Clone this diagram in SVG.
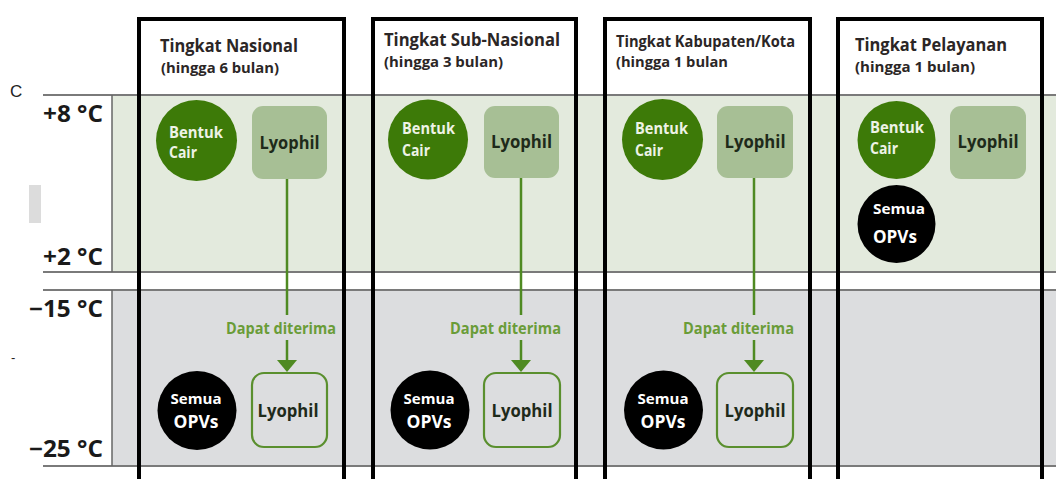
<svg xmlns="http://www.w3.org/2000/svg" width="1056" height="479" viewBox="0 0 1056 479">
<style>
.hd{font-family:"Open Sans","Noto Sans",sans-serif;font-weight:bold;fill:#2b2626;}
.sub{font-family:"Open Sans","Noto Sans",sans-serif;font-weight:bold;fill:#2b2626;}
.tmp{font-family:"Open Sans","Noto Sans",sans-serif;font-weight:bold;font-size:23px;fill:#1a1a1a;}
.band{stroke:#7a7a7a;stroke-width:2;}
.col{fill:none;stroke:#000;stroke-width:4;}
.gc{fill:#3d7a08;}
.bc{fill:#000;}
.lyo{fill:#a7bf95;}
.lyo2{fill:none;stroke:#5a8f2e;stroke-width:2.2;}
.wt{font-family:"Open Sans","Noto Sans",sans-serif;font-weight:bold;font-size:15.5px;fill:#eef3e6;}
.wt2{font-family:"Open Sans","Noto Sans",sans-serif;font-weight:bold;fill:#fff;}
.lt{font-family:"Open Sans","Noto Sans",sans-serif;font-weight:bold;font-size:17.5px;fill:#1e2a1a;text-anchor:middle;}
.dt{font-family:"Open Sans","Noto Sans",sans-serif;font-weight:bold;font-size:15.5px;fill:#6a9c38;}
.cn{stroke:#4f8a22;stroke-width:2.5;fill:none;}
</style>
<rect width="1056" height="479" fill="#fff"/>
<g id="bands">
<rect x="112" y="95" width="944" height="177" fill="#e3eadd"/>
<rect x="112" y="290" width="944" height="176" fill="#dcdddf"/>
<line class="band" x1="43" y1="95" x2="1056" y2="95"/>
<line class="band" x1="43" y1="272" x2="1056" y2="272"/>
<line class="band" x1="43" y1="290" x2="1056" y2="290"/>
<line class="band" x1="43" y1="466" x2="1056" y2="466"/>
<line x1="112" y1="95" x2="112" y2="272" stroke="#666" stroke-width="1.5"/>
<line x1="112" y1="290" x2="112" y2="466" stroke="#666" stroke-width="1.5"/>
<rect x="29" y="185" width="12" height="38" fill="#dcdcdc"/>
<text x="10" y="97" font-family="Liberation Sans, sans-serif" font-size="17" fill="#222">C</text>
<text x="11" y="362" font-family="Liberation Sans, sans-serif" font-size="13" fill="#222">-</text>
<text class="tmp" x="103" y="122" text-anchor="end" textLength="60" lengthAdjust="spacingAndGlyphs">+8 °C</text>
<text class="tmp" x="103" y="265" text-anchor="end" textLength="60" lengthAdjust="spacingAndGlyphs">+2 °C</text>
<text class="tmp" x="103" y="317" text-anchor="end" textLength="74" lengthAdjust="spacingAndGlyphs">−15 °C</text>
<text class="tmp" x="103" y="457" text-anchor="end" textLength="74" lengthAdjust="spacingAndGlyphs">−25 °C</text>
</g>
<g id="connectors">
<line class="cn" x1="287" y1="179" x2="287" y2="315"/>
<line class="cn" x1="287" y1="340" x2="287" y2="361"/>
<path d="M277,360 L297,360 L287,372 Z" fill="#4f8a22"/>
<line class="cn" x1="521" y1="178" x2="521" y2="315"/>
<line class="cn" x1="521" y1="340" x2="521" y2="361"/>
<path d="M511,360 L531,360 L521,372 Z" fill="#4f8a22"/>
<line class="cn" x1="754" y1="178" x2="754" y2="315"/>
<line class="cn" x1="754" y1="340" x2="754" y2="361"/>
<path d="M744,360 L764,360 L754,372 Z" fill="#4f8a22"/>
<text class="dt" x="226" y="334" textLength="110" lengthAdjust="spacingAndGlyphs">Dapat diterima</text>
<text class="dt" x="450" y="334" textLength="111" lengthAdjust="spacingAndGlyphs">Dapat diterima</text>
<text class="dt" x="683" y="334" textLength="111" lengthAdjust="spacingAndGlyphs">Dapat diterima</text>
</g>
<g id="col-nasional">
<rect class="col" x="139" y="19" width="205" height="480"/>
<text class="hd" x="160" y="52" font-size="17" textLength="138" lengthAdjust="spacingAndGlyphs">Tingkat Nasional</text>
<text class="sub" x="161" y="73" font-size="15" textLength="118" lengthAdjust="spacingAndGlyphs">(hingga 6 bulan)</text>
</g>
<g id="col-subnasional">
<rect class="col" x="373" y="19" width="203" height="480"/>
<text class="hd" x="384" y="46" font-size="17" textLength="176" lengthAdjust="spacingAndGlyphs">Tingkat Sub-Nasional</text>
<text class="sub" x="384" y="67" font-size="15" textLength="119" lengthAdjust="spacingAndGlyphs">(hingga 3 bulan)</text>
</g>
<g id="col-kabupaten">
<rect class="col" x="605" y="19" width="205" height="480"/>
<text class="hd" x="616" y="47" font-size="16" textLength="179" lengthAdjust="spacingAndGlyphs">Tingkat Kabupaten/Kota</text>
<text class="sub" x="616" y="67" font-size="15" textLength="112" lengthAdjust="spacingAndGlyphs">(hingga 1 bulan</text>
</g>
<g id="col-pelayanan">
<rect class="col" x="838" y="19" width="204" height="480"/>
<text class="hd" x="855" y="51" font-size="17" textLength="152" lengthAdjust="spacingAndGlyphs">Tingkat Pelayanan</text>
<text class="sub" x="855" y="72" font-size="15" textLength="120" lengthAdjust="spacingAndGlyphs">(hingga 1 bulan)</text>
</g>
<g id="n1-cair">
<circle class="gc" cx="196.5" cy="140.5" r="40.5"/>
<text class="wt" x="169" y="138" textLength="54" lengthAdjust="spacingAndGlyphs">Bentuk</text>
<text class="wt" x="169" y="158" textLength="28" lengthAdjust="spacingAndGlyphs">Cair</text>
</g>
<g id="n1-lyophil">
<rect class="lyo" x="252" y="106" width="75" height="73" rx="11"/>
<text class="lt" x="289.5" y="149" textLength="60" lengthAdjust="spacingAndGlyphs">Lyophil</text>
</g>
<g id="n1-opv">
<circle class="bc" cx="197" cy="410.5" r="39.5"/>
<text class="wt2" x="196" y="404" font-size="15" text-anchor="middle" textLength="51" lengthAdjust="spacingAndGlyphs">Semua</text>
<text class="wt2" x="196" y="428" font-size="17" text-anchor="middle" textLength="45" lengthAdjust="spacingAndGlyphs">OPVs</text>
</g>
<g id="n1-lyophil-frozen">
<rect class="lyo2" x="252" y="373" width="75" height="74" rx="12"/>
<text class="lt" x="288" y="417" textLength="61" lengthAdjust="spacingAndGlyphs">Lyophil</text>
</g>
<g id="n2-cair">
<circle class="gc" cx="428" cy="139.5" r="40"/>
<text class="wt" x="402" y="134" textLength="53" lengthAdjust="spacingAndGlyphs">Bentuk</text>
<text class="wt" x="402" y="156" textLength="28" lengthAdjust="spacingAndGlyphs">Cair</text>
</g>
<g id="n2-lyophil">
<rect class="lyo" x="484" y="106" width="75" height="72" rx="11"/>
<text class="lt" x="521.5" y="148" textLength="61" lengthAdjust="spacingAndGlyphs">Lyophil</text>
</g>
<g id="n2-opv">
<circle class="bc" cx="430" cy="410" r="39.5"/>
<text class="wt2" x="429" y="404" font-size="15" text-anchor="middle" textLength="51" lengthAdjust="spacingAndGlyphs">Semua</text>
<text class="wt2" x="429" y="428" font-size="17" text-anchor="middle" textLength="45" lengthAdjust="spacingAndGlyphs">OPVs</text>
</g>
<g id="n2-lyophil-frozen">
<rect class="lyo2" x="484" y="373" width="76" height="74" rx="12"/>
<text class="lt" x="522" y="417" textLength="61" lengthAdjust="spacingAndGlyphs">Lyophil</text>
</g>
<g id="n3-cair">
<circle class="gc" cx="662.5" cy="139.5" r="40.5"/>
<text class="wt" x="635" y="134" textLength="53" lengthAdjust="spacingAndGlyphs">Bentuk</text>
<text class="wt" x="635" y="156" textLength="28" lengthAdjust="spacingAndGlyphs">Cair</text>
</g>
<g id="n3-lyophil">
<rect class="lyo" x="717" y="106" width="76" height="72" rx="11"/>
<text class="lt" x="755" y="148" textLength="61" lengthAdjust="spacingAndGlyphs">Lyophil</text>
</g>
<g id="n3-opv">
<circle class="bc" cx="663.5" cy="410" r="39.5"/>
<text class="wt2" x="663" y="404" font-size="15" text-anchor="middle" textLength="51" lengthAdjust="spacingAndGlyphs">Semua</text>
<text class="wt2" x="663" y="428" font-size="17" text-anchor="middle" textLength="45" lengthAdjust="spacingAndGlyphs">OPVs</text>
</g>
<g id="n3-lyophil-frozen">
<rect class="lyo2" x="717" y="373" width="76" height="74" rx="12"/>
<text class="lt" x="755" y="417" textLength="61" lengthAdjust="spacingAndGlyphs">Lyophil</text>
</g>
<g id="n4-cair">
<circle class="gc" cx="896.5" cy="140" r="39"/>
<text class="wt" x="870" y="133" textLength="54" lengthAdjust="spacingAndGlyphs">Bentuk</text>
<text class="wt" x="870" y="154" textLength="28" lengthAdjust="spacingAndGlyphs">Cair</text>
</g>
<g id="n4-lyophil">
<rect class="lyo" x="950" y="106" width="76" height="73" rx="11"/>
<text class="lt" x="988" y="148" textLength="61" lengthAdjust="spacingAndGlyphs">Lyophil</text>
</g>
<g id="n4-opv">
<circle class="bc" cx="896.5" cy="224" r="39"/>
<text class="wt2" x="873" y="214" font-size="15" textLength="52" lengthAdjust="spacingAndGlyphs">Semua</text>
<text class="wt2" x="873" y="243" font-size="18" textLength="44" lengthAdjust="spacingAndGlyphs">OPVs</text>
</g>
</svg>
